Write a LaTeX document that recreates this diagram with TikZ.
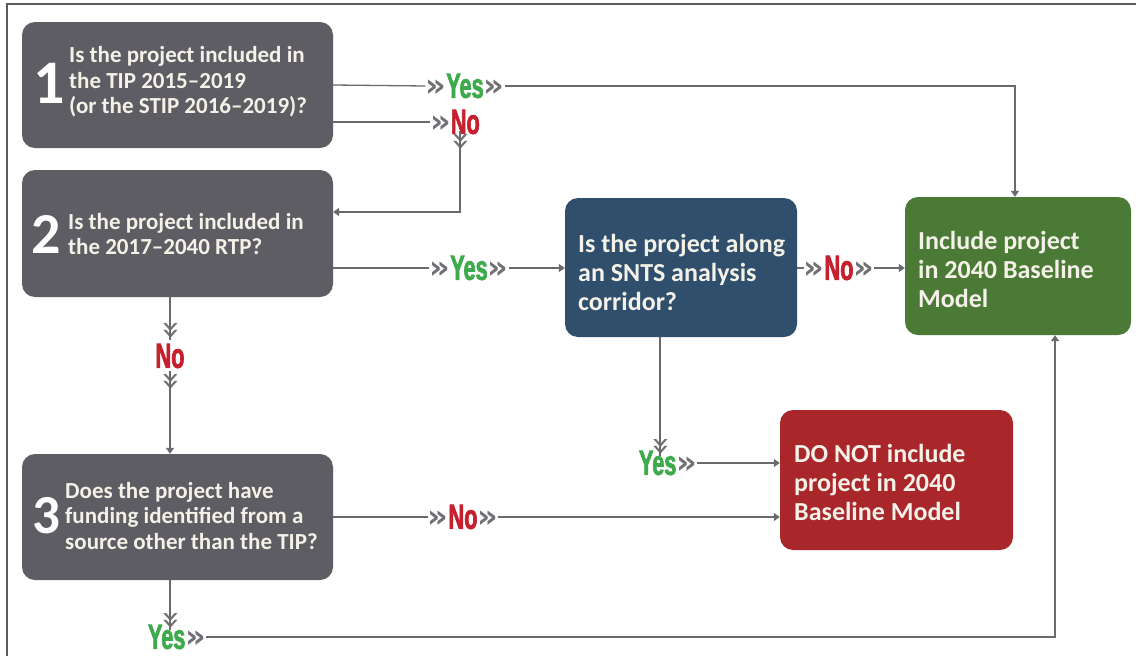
\documentclass[tikz,border=0pt]{standalone}
\usepackage{fontspec}
\setmainfont{Carlito}
\newfontfamily\lblfont[FakeStretch=0.62,FakeBold=1.8]{Liberation Sans}
\newfontfamily\chevfont{DejaVu Sans}
\usetikzlibrary{arrows.meta,calc}
\definecolor{boxgray}{HTML}{5E5D63}
\definecolor{boxblue}{HTML}{2F4F6D}
\definecolor{boxgreen}{HTML}{4A7A35}
\definecolor{boxred}{HTML}{A9272B}
\definecolor{linegray}{HTML}{6A6A6E}
\definecolor{chevgray}{HTML}{707075}
\definecolor{yesgreen}{HTML}{3DAA4B}
\definecolor{nored}{HTML}{C61F2E}
\definecolor{txtwhite}{HTML}{F4F1E8}
\definecolor{framegray}{HTML}{5A5A5A}
\newcommand\chvglyph{\scalebox{1.6}{\chevfont\fontsize{20}{20}\selectfont»}}
\newcommand\chv{\raisebox{1.5pt}{\color{chevgray}\chvglyph}}
\begin{document}
\begin{tikzpicture}[x=1pt,y=-1pt,
  qbox/.style={rounded corners=13pt, minimum width=#1, inner sep=0pt},
  btext/.style={text=txtwhite, font=\bfseries\fontsize{23}{25.5}\selectfont, align=left, inner sep=0pt, anchor=west},
  bigtext/.style={text=txtwhite, font=\bfseries\fontsize{26}{29}\selectfont, align=left, inner sep=0pt, anchor=west},
  numtext/.style={text=white, font=\bfseries, inner sep=0pt},
  ylbl/.style={text=yesgreen, font=\lblfont\bfseries\fontsize{35}{35}\selectfont, inner sep=0pt},
  nlbl/.style={text=nored, font=\lblfont\bfseries\fontsize{35}{35}\selectfont, inner sep=0pt},
  chev/.style={text=chevgray, inner sep=0pt, rotate=-90},
  conn/.style={draw=linegray, line width=1.3pt},
  arr/.style={conn, -{Triangle[length=6pt,width=8pt]}}
]
\useasboundingbox (0,0) rectangle (1136,656);
\fill[white] (0,0) rectangle (1136,656);
% frame
\draw[framegray, line width=1.6pt] (7,660) -- (7,4) -- (1140,4);

% boxes
\node[qbox=311pt, minimum height=126pt, fill=boxgray] (b1) at (177.5,85) {};
\node[qbox=311pt, minimum height=127pt, fill=boxgray] (b2) at (177.5,233.5) {};
\node[qbox=311pt, minimum height=126pt, fill=boxgray] (b3) at (177.5,517) {};
\node[qbox=232pt, minimum height=139pt, fill=boxblue] (q4) at (681,267.5) {};
\node[qbox=226pt, minimum height=138pt, fill=boxgreen] (inc) at (1018,266) {};
\node[qbox=233pt, minimum height=140pt, fill=boxred] (exc) at (896.5,480) {};

% box texts
\node[numtext, font=\bfseries\fontsize{62}{62}\selectfont] (n1) at (49,83) {1};
\node[btext] (t1) at (69,82) {Is the project included in\\the TIP 2015--2019\\(or the STIP 2016--2019)?};
\node[numtext, font=\bfseries\fontsize{58}{58}\selectfont] (n2) at (46,234) {2};
\node[btext] (t2) at (68,234) {Is the project included in\\the 2017--2040 RTP?};
\node[numtext, font=\bfseries\fontsize{55}{55}\selectfont] (n3) at (46,516) {3};
\node[btext] (t3) at (65,516) {Does the project have\\funding identified from a\\source other than the TIP?};
\node[bigtext] (t4) at (578,272) {Is the project along\\an SNTS analysis\\corridor?};
\node[bigtext] (t5) at (918,269) {Include project\\in 2040 Baseline\\Model};
\node[bigtext] (t6) at (794,482) {DO NOT include\\project in 2040\\Baseline Model};

% labels
\node[ylbl] (y1) at (465,86) {\chv Yes\chv};
\node[nlbl] (no1) at (455,122) {\chv No};
\node[chev] (cv1) at (460,141) {\chvglyph};
\node[ylbl] (y2) at (469,268) {\chv Yes\chv};
\node[nlbl] (no2) at (839,268) {\chv No\chv};
\node[chev] (cv2) at (170,330) {\chvglyph};
\node[nlbl] (no3) at (170,356) {No};
\node[chev] (cv3) at (170,381) {\chvglyph};
\node[chev] (cv4) at (660,446) {\chvglyph};
\node[ylbl] (y3) at (668,463) {Yes\chv};
\node[nlbl] (no4) at (463,517) {\chv No\chv};
\node[chev] (cv5) at (170,620) {\chvglyph};
\node[ylbl] (y4) at (177,637) {Yes\chv};

\coordinate (c1) at (460,212);
\coordinate (c2) at (1055,637);

% connectors
\draw[conn] (b1.east) -- (y1.west);
\draw[arr] (y1.east) -| (inc.north -| 1015,0);
\draw[conn] (b1.east |- no1.west) -- (no1.west);
\draw[arr] (cv1.west) -- (c1) -- (b2.east |- c1);
\draw[conn] (b2.east |- y2.west) -- (y2.west);
\draw[arr] (y2.east) -- (q4.west |- y2.east);
\draw[conn] (q4.east |- no2.west) -- (no2.west);
\draw[arr] (no2.east) -- (inc.west |- no2.east);
\draw[conn] (b2.south -| cv2) -- (cv2.east);
\draw[arr] (cv3.west) -- (b3.north -| cv3);
\draw[conn] (q4.south -| cv4) -- (cv4.east);
\draw[arr] (y3.east) -- (exc.west |- y3.east);
\draw[conn] (b3.east) -- (no4.west);
\draw[arr] (no4.east) -- (exc.west |- no4.east);
\draw[conn] (b3.south -| cv5) -- (cv5.east);
\draw[arr] (y4.east) -- (c2) -- (inc.south -| c2);
\end{tikzpicture}
\end{document}
